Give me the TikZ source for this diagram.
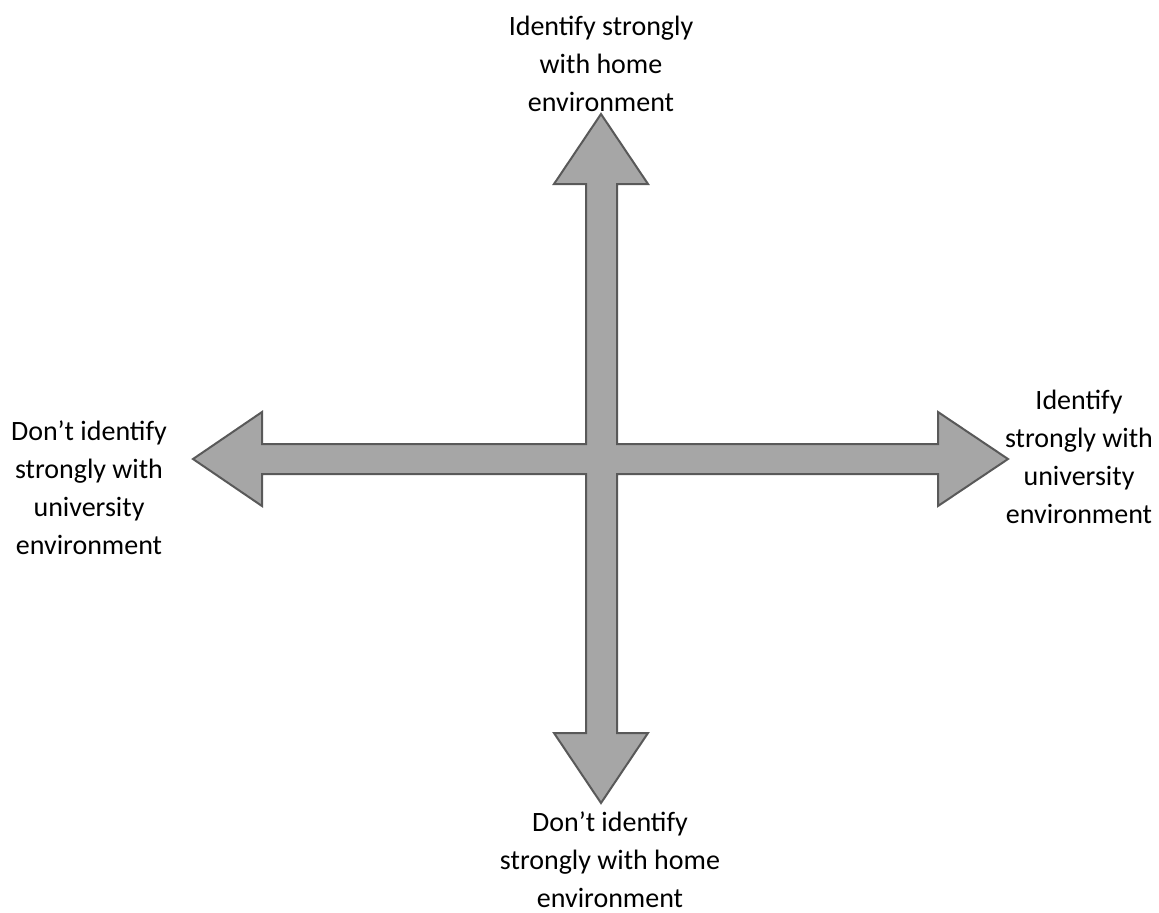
\documentclass[tikz,border=0pt]{standalone}
\usepackage{fontspec}
\setmainfont{Carlito}
\tikzset{
  axislabel/.style={align=center, inner sep=0.75pt, font=\fontsize{14}{19}\selectfont}
}
\begin{document}
\begin{tikzpicture}[x=0.5pt,y=0.5pt,yscale=-1,xscale=1]
\useasboundingbox (0,0) rectangle (1159,912);
%Shape: Four-way arrow
\draw  [draw={rgb, 255:red, 89; green, 89; blue, 89 }, fill={rgb, 255:red, 166; green, 166; blue, 166 }, line width=1pt, line join=miter]
  (601,114) -- (648,184) -- (617,184) -- (617,444) -- (938,444) -- (938,412) -- (1008,459) -- (938,506) -- (938,474) -- (617,474) -- (617,733) -- (648,733) -- (601,803) -- (554,733) -- (586,733) -- (586,474) -- (262,474) -- (262,506) -- (193,459) -- (262,412) -- (262,444) -- (586,444) -- (586,184) -- (554,184) -- cycle ;
% Text Node
\node (homehigh) [axislabel] at (601,64) {Identify strongly\\with home\\environment};
% Text Node
\node (homelow) [axislabel] at (610,860) {Don’t identify\\strongly with home\\environment};
% Text Node
\node (unilow) [axislabel] at (89,488) {Don’t identify\\strongly with\\university\\environment};
% Text Node
\node (unihigh) [axislabel] at (1079,457) {Identify\\strongly with\\university\\environment};
\end{tikzpicture}
\end{document}
